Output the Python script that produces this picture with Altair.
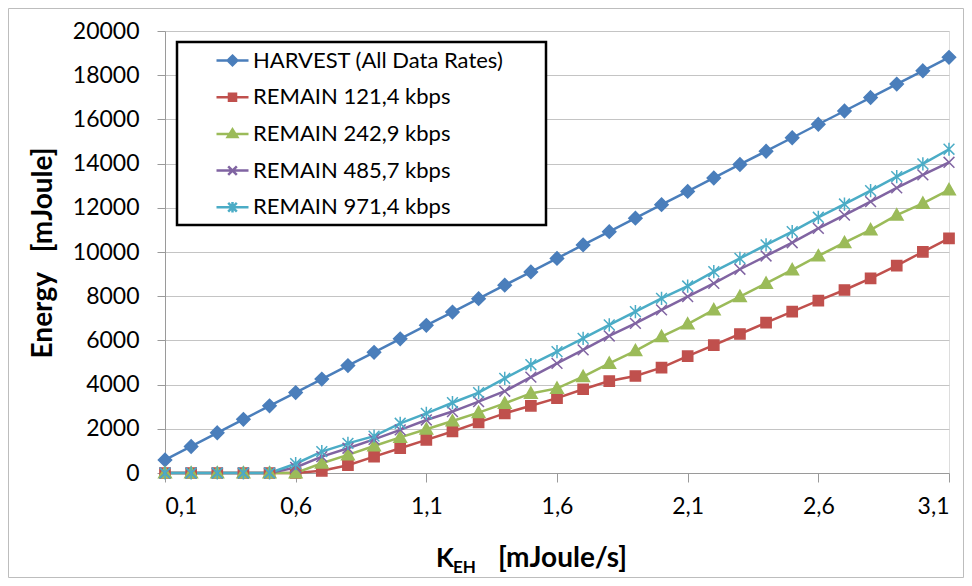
import altair as alt
import pandas as pd

# ---------------- data ----------------
k_eh = [0.1, 0.2, 0.3, 0.4, 0.5, 0.6, 0.7, 0.8, 0.9, 1.0, 1.1, 1.2, 1.3, 1.4, 1.5, 1.6,
        1.7, 1.8, 1.9, 2.0, 2.1, 2.2, 2.3, 2.4, 2.5, 2.6, 2.7, 2.8, 2.9, 3.0, 3.1]

harvest = [590, 1200, 1820, 2430, 3040, 3640, 4250, 4860, 5460, 6070, 6680, 7280, 7890, 8500,
           9100, 9710, 10320, 10920, 11530, 12140, 12740, 13350, 13960, 14560, 15170, 15780,
           16380, 16990, 17600, 18200, 18810]
remain_121 = [0, 0, 0, 0, 0, 0, 100, 350, 740, 1120, 1500, 1880, 2290, 2700, 3040, 3390,
              3790, 4160, 4390, 4770, 5290, 5790, 6290, 6800, 7300, 7800, 8280, 8810, 9380,
              10010, 10620]
remain_242 = [0, 0, 0, 0, 0, 0, 440, 820, 1220, 1610, 1980, 2350, 2730, 3150, 3600, 3830,
              4360, 4960, 5530, 6170, 6740, 7380, 7980, 8580, 9190, 9820, 10420, 11000, 11670,
              12200, 12810]
remain_485 = [0, 0, 0, 0, 0, 250, 740, 1120, 1520, 1950, 2400, 2780, 3230, 3700, 4340, 4960,
              5570, 6200, 6770, 7380, 7980, 8580, 9220, 9820, 10420, 11070, 11670, 12280, 12900,
              13490, 14060]
remain_971 = [0, 0, 0, 0, 0, 420, 970, 1340, 1670, 2250, 2700, 3180, 3640, 4280, 4900, 5490,
              6090, 6700, 7300, 7900, 8460, 9110, 9710, 10320, 10920, 11570, 12170, 12780, 13410,
              13990, 14650]

series_names = ["HARVEST (All Data Rates)", "REMAIN 121,4 kbps", "REMAIN 242,9 kbps",
                "REMAIN 485,7 kbps", "REMAIN 971,4 kbps"]
series_values = [harvest, remain_121, remain_242, remain_485, remain_971]
colors = ["#4A7EBB", "#C0504D", "#9BBB59", "#8064A2", "#4BACC6"]

x_ticks = [0.1, 0.6, 1.1, 1.6, 2.1, 2.6, 3.1]
y_ticks = [0, 2000, 4000, 6000, 8000, 10000, 12000, 14000, 16000, 18000, 20000]

# marker shapes (unit coordinates)
marker_paths = [
    "M0,-1.1L1.1,0L0,1.1L-1.1,0Z",
    "M-0.85,-0.85H0.85V0.85H-0.85Z",
    "M0,-1.05L1.05,0.8H-1.05Z",
    "M-0.9,-0.9L0.9,0.9M-0.9,0.9L0.9,-0.9",
    "M-0.9,-0.9L0.9,0.9M-0.9,0.9L0.9,-0.9M0,-1.1V1.1",
]
legend_paths = [
    "M-1,0H1M0,-0.3L0.3,0L0,0.3L-0.3,0Z",
    "M-1,0H1M-0.22,-0.22H0.22V0.22H-0.22Z",
    "M-1,0H1M0,-0.28L0.3,0.2H-0.3Z",
    "M-1,0H1M-0.27,-0.27L0.27,0.27M-0.27,0.27L0.27,-0.27",
    "M-1,0H1M-0.27,-0.27L0.27,0.27M-0.27,0.27L0.27,-0.27M0,-0.33V0.33",
]

rows = []
for i, (name, vals) in enumerate(zip(series_names, series_values)):
    for xv, yv in zip(k_eh, vals):
        rows.append({"k": xv, "energy": yv, "series": name, "label": name, "idx": i})
df = pd.DataFrame(rows)

FONT = "Lato"

xscale = alt.Scale(domain=[0.1, 3.1], nice=False, zero=False)
yscale = alt.Scale(domain=[0, 20000], nice=False, zero=True)

x_enc = alt.X("k:Q", scale=xscale, axis=alt.Axis(
    values=x_ticks, grid=False, title=None, tickSize=9, tickColor="#9A9A9A",
    domainColor="#9A9A9A", labelFont=FONT, labelFontSize=23, labelColor="black",
    labelPadding=13, labelExpr="replace(format(datum.value, '.1f'), '.', ',')"))
y_enc = alt.Y("energy:Q", scale=yscale, axis=alt.Axis(
    values=y_ticks, grid=True, gridColor="#C4C4C4", gridWidth=1, title=None, tickSize=8,
    tickColor="#9A9A9A", domainColor="#9A9A9A", labelFont=FONT, labelFontSize=23,
    labelColor="black", labelPadding=18, format="d"))

color_scale = alt.Scale(domain=series_names, range=colors)

base = alt.Chart(df).encode(x=x_enc, y=y_enc)

lines = base.mark_line(strokeWidth=2.5).encode(
    stroke=alt.Stroke("series:N", scale=color_scale, legend=None),
    order=alt.Order("k:Q"),
)

points = base.mark_point(filled=True, size=144, strokeWidth=1.5, opacity=1).encode(
    shape=alt.Shape("series:N", scale=alt.Scale(domain=series_names, range=marker_paths), legend=None),
    fill=alt.Fill("series:N", scale=color_scale, legend=None),
    stroke=alt.Stroke("series:N", scale=color_scale, legend=None),
    order=alt.Order("idx:Q"),
)

legend = alt.Legend(
    title=None, orient="none", legendX=50, legendY=12, padding=0,
    symbolSize=1024, symbolStrokeWidth=2.5, labelFont=FONT, labelFontSize=22,
    labelColor="black", labelOffset=3, labelLimit=0, rowPadding=7.7,
    labelExpr="(indexof(datum.label, 'HARVEST') == 0 ? '\u00a0' : '') + datum.label",
)

legend_layer = alt.Chart(df).transform_filter("false").mark_point(
    filled=True, opacity=1, strokeWidth=2.5).encode(
    x=alt.X("k:Q", scale=xscale),
    y=alt.Y("energy:Q", scale=yscale),
    shape=alt.Shape("label:N", scale=alt.Scale(domain=series_names, range=legend_paths), legend=legend),
    fill=alt.Fill("label:N", scale=color_scale, legend=legend),
    stroke=alt.Stroke("label:N", scale=color_scale, legend=legend),
)

one = pd.DataFrame({"a": [0]})

legend_box = alt.Chart(one).mark_rect(fill="white", stroke="black", strokeWidth=2.5).encode(
    x=alt.value(12), x2=alt.value(381), y=alt.value(11), y2=alt.value(194))

border = alt.Chart(one).mark_rect(fill="white", fillOpacity=0, stroke="#BDBDBD", strokeWidth=1).encode(
    x=alt.value(-156.5), x2=alt.value(798.5), y=alt.value(-22.5), y2=alt.value(546.5))

title_k = alt.Chart(one).mark_text(font=FONT, fontWeight="bold", fontSize=26, align="left",
                                   baseline="alphabetic", color="black").encode(
    x=alt.value(271), y=alt.value(536), text=alt.value("K"))
title_eh = alt.Chart(one).mark_text(font=FONT, fontWeight="bold", fontSize=17, align="left",
                                    baseline="alphabetic", color="black").encode(
    x=alt.value(288), y=alt.value(542), text=alt.value("EH"))
title_unit = alt.Chart(one).mark_text(font=FONT, fontWeight="bold", fontSize=28, align="left",
                                      baseline="alphabetic", color="black").encode(
    x=alt.value(333), y=alt.value(536), text=alt.value("[mJoule/s]"))
title_y = alt.Chart(one).mark_text(font=FONT, fontWeight="bold", fontSize=28, align="center",
                                   baseline="middle", angle=270, color="black").encode(
    x=alt.value(-121), y=alt.value(222), text=alt.value("Energy\u00a0\u00a0\u00a0[mJoule]"))

chart = alt.layer(
    border, legend_box, lines, points, legend_layer, title_k, title_eh, title_unit, title_y
).resolve_scale(
    shape="independent", fill="independent", stroke="independent"
).properties(
    width=784, height=442,
    autosize=alt.AutoSizeParams(type="none"),
    padding={"left": 157, "top": 23, "right": 15, "bottom": 105},
).configure_view(stroke=None).configure(background="white")

chart.save("out.html", embed_options={"renderer": "svg", "actions": False})
